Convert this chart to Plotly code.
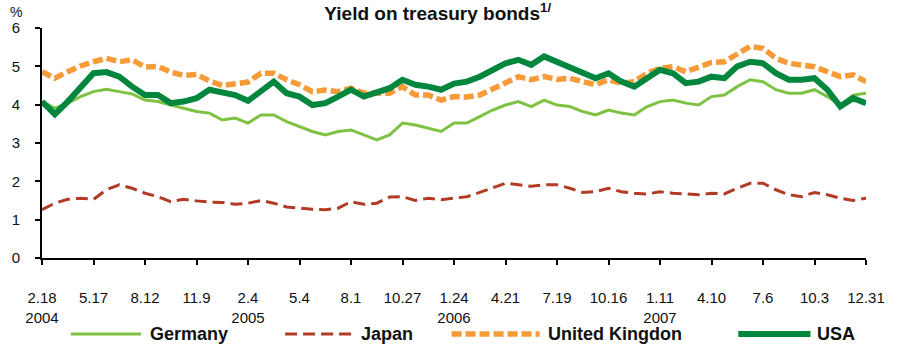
import plotly.graph_objects as go

tick_labels = ["2.18<br>2004", "5.17", "8.12", "11.9", "2.4<br>2005", "5.4", "8.1", "10.27",
               "1.24<br>2006", "4.21", "7.19", "10.16", "1.11<br>2007", "4.10", "7.6", "10.3", "12.31"]

germany = [4.08, 3.91, 4.04, 4.21, 4.34, 4.40, 4.34, 4.28, 4.12, 4.08, 3.99, 3.91, 3.82, 3.78, 3.60, 3.65, 3.52,
           3.73, 3.73, 3.56, 3.43, 3.30, 3.21, 3.30, 3.34, 3.21, 3.08, 3.21, 3.52, 3.47, 3.38, 3.30, 3.52,
           3.52, 3.69, 3.86, 3.99, 4.08, 3.95, 4.12, 3.99, 3.95, 3.82, 3.73, 3.86, 3.78, 3.73, 3.95, 4.08,
           4.12, 4.04, 3.99, 4.21, 4.25, 4.47, 4.65, 4.60, 4.39, 4.30, 4.30, 4.39, 4.21, 3.99, 4.25, 4.30]

japan = [1.26, 1.43, 1.53, 1.56, 1.53, 1.78, 1.91, 1.82, 1.69, 1.60, 1.47, 1.53, 1.49, 1.46, 1.45, 1.40, 1.43,
         1.50, 1.43, 1.33, 1.30, 1.27, 1.26, 1.30, 1.47, 1.40, 1.43, 1.59, 1.60, 1.50, 1.56, 1.52, 1.56,
         1.60, 1.71, 1.82, 1.95, 1.91, 1.87, 1.91, 1.91, 1.82, 1.71, 1.73, 1.82, 1.73, 1.69, 1.67, 1.73,
         1.69, 1.67, 1.65, 1.69, 1.67, 1.82, 1.95, 1.95, 1.78, 1.65, 1.60, 1.71, 1.65, 1.56, 1.50, 1.56]

uk = [4.86, 4.69, 4.86, 5.01, 5.12, 5.21, 5.12, 5.17, 4.98, 5.00, 4.85, 4.76, 4.79, 4.62, 4.50, 4.56, 4.59,
      4.82, 4.82, 4.65, 4.52, 4.34, 4.38, 4.34, 4.43, 4.30, 4.30, 4.30, 4.47, 4.25, 4.25, 4.12, 4.21,
      4.20, 4.25, 4.42, 4.60, 4.73, 4.65, 4.73, 4.66, 4.69, 4.60, 4.52, 4.65, 4.56, 4.60, 4.82, 4.95,
      4.99, 4.86, 4.99, 5.10, 5.12, 5.30, 5.52, 5.47, 5.21, 5.08, 5.04, 4.99, 4.86, 4.73, 4.78, 4.60]

usa = [4.08, 3.75, 4.08, 4.47, 4.82, 4.85, 4.73, 4.47, 4.25, 4.25, 4.04, 4.08, 4.17, 4.39, 4.30, 4.25, 4.10,
       4.34, 4.60, 4.30, 4.21, 3.99, 4.04, 4.21, 4.39, 4.21, 4.30, 4.43, 4.65, 4.52, 4.47, 4.39, 4.55,
       4.60, 4.73, 4.91, 5.08, 5.17, 5.04, 5.26, 5.12, 4.95, 4.82, 4.69, 4.82, 4.60, 4.47, 4.69, 4.91,
       4.82, 4.56, 4.60, 4.73, 4.69, 5.00, 5.12, 5.08, 4.82, 4.65, 4.65, 4.69, 4.39, 3.95, 4.17, 4.04]

x = list(range(len(germany)))
tick_step = (len(germany) - 1) // (len(tick_labels) - 1)
tick_vals = [i * tick_step for i in range(len(tick_labels))]

series = [
    ("Germany", germany, "#7DC243", 3, "solid"),
    ("Japan", japan, "#B23B26", 3, "12px,6px"),
    ("United Kingdon", uk, "#F79A38", 5.5, "10px,4px"),
    ("USA", usa, "#00873D", 6, "solid"),
]

fig = go.Figure()
for name, ys, color, width, dash in series:
    fig.add_trace(go.Scatter(x=x, y=ys, mode="lines", name=name,
                             line=dict(color=color, width=width, dash=dash),
                             showlegend=False))

# manual legend (paper coordinates)
legend_pos = [(0.035, 0.120, 0.1288), (0.295, 0.378, 0.3851), (0.497, 0.604, 0.6113), (0.845, 0.9326, 0.9386)]
ly = -0.33
for (name, ys, color, width, dash), (x0, x1, tx) in zip(series, legend_pos):
    fig.add_shape(type="line", xref="paper", yref="paper", x0=x0, x1=x1, y0=ly, y1=ly,
                  line=dict(color=color, width=width, dash=dash))
    fig.add_annotation(text="<b>%s</b>" % name, xref="paper", yref="paper", x=tx, y=ly,
                       xanchor="left", yanchor="middle", showarrow=False,
                       font=dict(family="Liberation Sans, Arial", size=18, color="#111"))

fig.add_annotation(text="%", xref="paper", yref="paper", x=-0.031, y=1.07,
                   xanchor="center", yanchor="middle", showarrow=False,
                   font=dict(family="Liberation Sans, Arial", size=14, color="#111"))

fig.update_layout(
    width=897, height=346,
    margin=dict(l=41, r=25, t=28, b=88),
    plot_bgcolor="white", paper_bgcolor="white",
    font=dict(family="Liberation Sans, Arial", color="#111"),
    title=dict(text="<b>Yield on treasury bonds<sup>1/</sup></b>", x=0.488, xanchor="center",
               y=0.962, yanchor="middle", font=dict(size=19, color="#111")),
)
fig.update_xaxes(range=[0, len(germany) - 1], tickmode="array", tickvals=tick_vals, ticktext=tick_labels,
                 showgrid=False, zeroline=False, showline=True, linecolor="black", linewidth=2,
                 ticks="outside", ticklen=5, tickwidth=2, tickcolor="black",
                 tickfont=dict(size=15), ticklabelstandoff=20)
fig.update_yaxes(range=[0, 6], tickmode="array", tickvals=[0, 1, 2, 3, 4, 5, 6],
                 showgrid=False, zeroline=False, showline=True, linecolor="black", linewidth=2,
                 ticks="outside", ticklen=5, tickwidth=2, tickcolor="black",
                 tickfont=dict(size=15), ticklabelstandoff=12)

fig.write_html("out.html")
